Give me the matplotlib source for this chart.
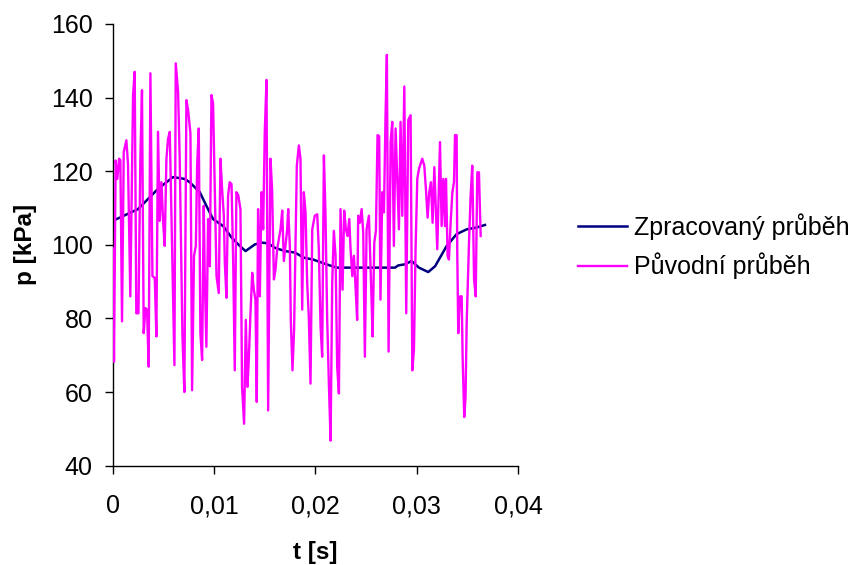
import matplotlib
matplotlib.use("Agg")
import matplotlib.pyplot as plt

plt.rcParams['font.family'] = ['Liberation Sans', 'DejaVu Sans']

# processed (smoothed) pressure trace
t_proc = [0.0, 0.0025, 0.00447, 0.00595, 0.0071, 0.0076, 0.00859, 0.00924, 0.0099,
          0.01089, 0.01172, 0.01238, 0.0131, 0.01402, 0.01468, 0.01533, 0.01599,
          0.01698, 0.01797, 0.01885, 0.01977, 0.02109, 0.02208, 0.02527, 0.02784,
          0.02816, 0.02882, 0.02948, 0.0302, 0.03112, 0.0318, 0.03294, 0.03392,
          0.03491, 0.0359, 0.03672]
p_proc = [106.5, 109.7, 115.2, 118.4, 117.9, 117.0, 114.3, 110.6, 107.0,
          105.1, 102.0, 100.1, 98.3, 100.1, 100.6, 100.4, 99.2,
          98.3, 97.9, 96.5, 96.0, 94.7, 93.8, 93.8, 93.8,
          94.4, 94.7, 95.6, 93.8, 92.6, 94.2, 99.7, 102.9,
          104.2, 104.7, 105.4]

# original measured pressure trace
t_raw = [0.0, 0.00013, 0.00029, 0.00046, 0.00063, 0.00076, 0.00092, 0.00109, 0.00135,
         0.00151, 0.00174, 0.00201, 0.00217, 0.00233, 0.00254, 0.00273, 0.00289,
         0.00306, 0.00323, 0.00339, 0.00355, 0.00372, 0.00392, 0.00415, 0.00431,
         0.00447, 0.00464, 0.00481, 0.00497, 0.00513, 0.0053, 0.00546, 0.00563,
         0.00609, 0.00622, 0.00645, 0.00661, 0.00688, 0.00707, 0.00727, 0.00744,
         0.00767, 0.00783, 0.00802, 0.0082, 0.00833, 0.00849, 0.00865, 0.00882,
         0.00898, 0.00908, 0.00924, 0.00941, 0.00958, 0.00974, 0.0099, 0.01024,
         0.01046, 0.01063, 0.01079, 0.01096, 0.01106, 0.01122, 0.01138, 0.01154,
         0.01172, 0.01188, 0.01204, 0.0122, 0.01238, 0.0126, 0.01276, 0.01296,
         0.01313, 0.01329, 0.01342, 0.01359, 0.01376, 0.01392, 0.01408, 0.01421,
         0.01434, 0.01451, 0.01468, 0.01484, 0.015, 0.01517, 0.01533, 0.01556,
         0.01572, 0.0159, 0.01606, 0.01622, 0.01655, 0.01672, 0.01688, 0.0172,
         0.01731, 0.01747, 0.01757, 0.01773, 0.01789, 0.01807, 0.01816, 0.01836,
         0.01852, 0.01869, 0.01885, 0.01902, 0.01918, 0.01934, 0.01951, 0.01968,
         0.01993, 0.02017, 0.02033, 0.0205, 0.02066, 0.02083, 0.02099, 0.02115,
         0.02132, 0.02149, 0.02165, 0.02181, 0.02198, 0.02214, 0.02231, 0.02247,
         0.02267, 0.02283, 0.023, 0.02316, 0.02333, 0.02346, 0.02363, 0.02379,
         0.02395, 0.02411, 0.02421, 0.02438, 0.02455, 0.02471, 0.02487, 0.02504,
         0.02527, 0.02553, 0.02563, 0.0258, 0.02596, 0.02612, 0.02628, 0.02641,
         0.02659, 0.02675, 0.02691, 0.02704, 0.02721, 0.02741, 0.02757, 0.02773,
         0.0279, 0.02807, 0.02823, 0.02839, 0.02856, 0.02876, 0.02895, 0.02915,
         0.02938, 0.02955, 0.02971, 0.02987, 0.03004, 0.0302, 0.03053, 0.03073,
         0.03089, 0.03106, 0.03122, 0.03139, 0.03155, 0.03172, 0.03201, 0.03228,
         0.03244, 0.0326, 0.03277, 0.03287, 0.03303, 0.03316, 0.03333, 0.0335,
         0.03366, 0.03376, 0.03392, 0.03398, 0.03408, 0.03425, 0.03442, 0.03451,
         0.03467, 0.0348, 0.03491, 0.03514, 0.0353, 0.03546, 0.03564, 0.0358,
         0.03596, 0.03612, 0.03629]
p_raw = [99.0, 68.2, 122.9, 117.9, 123.4, 123.0, 79.2, 125.2, 128.4,
         122.0, 86.0, 140.7, 147.0, 81.4, 81.4, 123.4, 142.0,
         76.0, 82.8, 82.4, 66.9, 146.6, 91.5, 91.0, 75.1,
         130.7, 106.5, 117.0, 106.5, 99.7, 123.4, 128.8, 130.7,
         67.3, 149.3, 141.6, 123.4, 75.1, 60.0, 139.3, 136.6,
         130.2, 60.5, 97.0, 99.7, 121.5, 131.6, 76.0, 68.7,
         110.6, 91.5, 72.3, 107.0, 94.2, 140.7, 138.4, 91.5,
         86.9, 123.4, 115.2, 107.9, 95.1, 85.6, 113.3, 117.0,
         116.5, 96.0, 65.9, 114.3, 113.5, 109.7, 61.4, 51.4,
         79.6, 61.4, 68.7, 81.4, 92.4, 87.8, 85.1, 57.3,
         109.7, 86.0, 114.3, 104.2, 130.7, 144.8, 55.0, 123.4,
         115.2, 90.6, 93.3, 98.8, 104.2, 109.3, 95.6, 103.8,
         109.7, 99.7, 79.2, 65.9, 76.9, 106.0, 121.5, 127.0,
         123.4, 82.4, 114.3, 108.8, 89.7, 80.5, 62.3, 104.2,
         107.9, 108.3, 98.8, 77.8, 69.6, 124.3, 107.9, 80.5,
         62.3, 46.8, 89.7, 103.8, 97.0, 66.9, 59.6, 109.7,
         87.8, 109.3, 104.2, 102.4, 107.0, 98.8, 91.5, 97.0,
         88.7, 79.6, 107.9, 106.0, 109.7, 103.3, 69.6, 104.2,
         107.9, 85.1, 75.1, 100.6, 103.8, 129.8, 129.5, 85.1,
         114.3, 108.8, 135.2, 151.6, 71.0, 127.9, 133.4, 99.7,
         131.6, 117.0, 104.2, 133.4, 107.9, 143.0, 81.4, 133.9,
         135.2, 65.9, 71.4, 98.8, 117.9, 120.6, 123.4, 121.5,
         115.2, 107.4, 114.3, 117.0, 106.0, 121.1, 98.8, 127.9,
         105.1, 117.9, 105.1, 117.9, 97.0, 96.0, 106.0, 114.3,
         117.0, 129.8, 129.8, 98.8, 76.0, 86.0, 86.0, 69.6,
         53.2, 58.7, 78.7, 100.6, 113.3, 121.5, 90.6, 86.0,
         119.7, 119.7, 102.4]

x_ticks = [0, 0.01, 0.02, 0.03, 0.04]
x_tick_labels = ['0', '0,01', '0,02', '0,03', '0,04']
y_ticks = [40, 60, 80, 100, 120, 140, 160]

fig = plt.figure(figsize=(8.53, 5.65), dpi=100)
ax = fig.add_axes([0.1321, 0.1758, 0.4755, 0.7818])

l1, = ax.plot(t_proc, p_proc, color='#000080', lw=1.8, zorder=2)
l2, = ax.plot(t_raw, p_raw, color='#FF00FF', lw=1.7, zorder=3)

ax.set_xlim(0, 0.04)
ax.set_ylim(40, 160)
ax.set_xticks(x_ticks)
ax.set_xticklabels(x_tick_labels)
ax.set_yticks(y_ticks)

for side in ['top', 'right']:
    ax.spines[side].set_visible(False)
for side in ['left', 'bottom']:
    ax.spines[side].set_linewidth(1.0)

ax.tick_params(axis='both', direction='out', length=5.5, width=1.0, labelsize=18)
ax.tick_params(axis='x', pad=15)
ax.tick_params(axis='y', pad=9)

ax.set_xlabel('t [s]', fontsize=17.5, fontweight='bold')
ax.set_ylabel('p [kPa]', fontsize=17.5, fontweight='bold')
ax.xaxis.set_label_coords(0.5, -0.170)
ax.yaxis.set_label_coords(-0.187, 0.5)

fig.legend([l1, l2], ['Zpracovaný průběh', 'Původní průběh'],
           loc='center left', bbox_to_anchor=(578 / 853, 1 - 246.5 / 565),
           bbox_transform=fig.transFigure, frameon=False, fontsize=18,
           handlelength=1.95, handletextpad=0.3, labelspacing=0.5,
           borderpad=0, borderaxespad=0)

fig.savefig('out.png', dpi=100)
